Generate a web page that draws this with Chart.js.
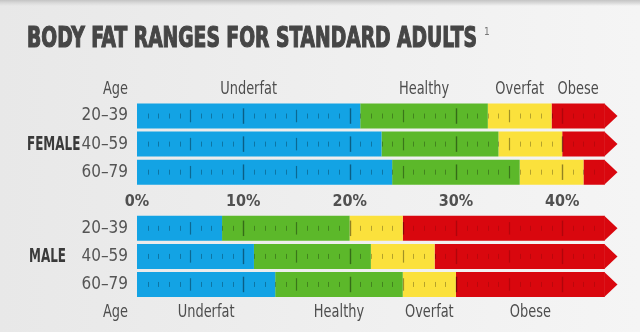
<!DOCTYPE html>
<html>
<head>
<meta charset="utf-8">
<script src="https://cdn.jsdelivr.net/npm/chart.js@4/dist/chart.umd.min.js"></script>
<style>
  html, body { margin: 0; padding: 0; }
  body {
    width: 640px; height: 332px; overflow: hidden;
    background: linear-gradient(to bottom, #c4c4c4 0px, #dadada 3px, rgba(0,0,0,0) 6px),
                linear-gradient(to right, #e8e8e8, #f5f5f5);
  }
  #wrap { position: relative; width: 640px; height: 332px; }
</style>
</head>
<body>
<div id="wrap"><canvas id="myChart" width="640" height="332"></canvas></div>
<script>
const ctx = document.getElementById('myChart');

const FONT = "'Liberation Sans Narrow', 'DejaVu Sans Condensed', 'Roboto', sans-serif";

// data (% body fat, upper bound of each range)
const ageGroups = ['20–39', '40–59', '60–79'];
const zones = ['Underfat', 'Healthy', 'Overfat', 'Obese'];
const femaleUnderfat = [21, 23, 24];
const femaleHealthy = [33, 34, 36];
const femaleOverfat = [39, 40, 42];
const maleUnderfat = [8, 11, 13];
const maleHealthy = [20, 22, 25];
const maleOverfat = [25, 28, 30];
const scaleEnd = 44;      // where the obese bar body ends
const arrowTip = 45.2;    // point of the arrow
const xTicks = [0, 10, 20, 30, 40];

const colors = ['#13a3e4', '#5cb82a', '#fbe13c', '#d9070e'];

// rows: female 3, blank spacer, male 3
const labels = [...ageGroups, '', ...ageGroups];

function rows(lo, hi) {
  const f = ageGroups.map((_, i) => [lo.f(i), hi.f(i)]);
  const m = ageGroups.map((_, i) => [lo.m(i), hi.m(i)]);
  return [...f, null, ...m];
}
const zero = { f: () => 0, m: () => 0 };
const end = { f: () => scaleEnd, m: () => scaleEnd };
const uf = { f: i => femaleUnderfat[i], m: i => maleUnderfat[i] };
const hl = { f: i => femaleHealthy[i], m: i => maleHealthy[i] };
const ov = { f: i => femaleOverfat[i], m: i => maleOverfat[i] };

const ranges = [rows(zero, uf), rows(uf, hl), rows(hl, ov), rows(ov, end)];

// condensed look: squeeze text horizontally
function squeezed(c, text, x, y, factor, align) {
  const w = c.measureText(text).width * factor;
  let left = x;
  if (align === 'center') left = x - w / 2;
  if (align === 'right') left = x - w;
  c.save();
  c.textAlign = 'left';
  c.translate(left, y);
  c.scale(factor, 1);
  c.fillText(text, 0, 0);
  c.restore();
}

const background = {
  id: 'background',
  beforeDraw(chart) {
    const c = chart.ctx;
    c.save();
    c.font = `bold 29px ${FONT}`;
    const title = 'BODY FAT RANGES FOR STANDARD ADULTS';
    const w = c.measureText(title).width;
    c.translate(27, 47);
    c.scale(450 / w, 1);
    c.fillStyle = '#464646';
    c.strokeStyle = '#464646';
    c.lineWidth = 1.2;
    c.textBaseline = 'alphabetic';
    c.fillText(title, 0, 0);
    c.strokeText(title, 0, 0);
    c.restore();
    c.save();
    c.font = `10px ${FONT}`;
    c.fillStyle = '#777';
    c.fillText('1', 484, 35);
    c.restore();
  }
};

const marks = {
  id: 'marks',
  afterDatasetsDraw(chart) {
    const c = chart.ctx;
    const xs = chart.scales.x;
    const meta0 = chart.getDatasetMeta(0);
    const red = chart.getDatasetMeta(3);
    c.save();
    // arrow heads on the obese bars
    c.fillStyle = colors[3];
    red.data.forEach((bar, i) => {
      if (ranges[3][i] == null) return;
      const h = bar.height;
      c.beginPath();
      c.moveTo(bar.x - 0.5, bar.y - h / 2);
      c.lineTo(xs.getPixelForValue(arrowTip), bar.y);
      c.lineTo(bar.x - 0.5, bar.y + h / 2);
      c.closePath();
      c.fill();
    });
    // scale marks inside the bars
    meta0.data.forEach((bar, i) => {
      if (ranges[0][i] == null) return;
      const h = bar.height;
      for (let v = 1; v < scaleEnd; v++) {
        const px = Math.round(xs.getPixelForValue(v)) + 0.5;
        let len, a, lw;
        if (v % 10 === 0) { len = h * 0.62; a = 0.42; lw = 1.4; }
        else if (v % 5 === 0) { len = h * 0.5; a = 0.36; lw = 1.2; }
        else { len = h * 0.2; a = 0.28; lw = 1; }
        if (v > ranges[3][i][0]) a *= 0.45;
        c.strokeStyle = `rgba(0,0,0,${a})`;
        c.lineWidth = lw;
        c.beginPath();
        c.moveTo(px, bar.y - len / 2);
        c.lineTo(px, bar.y + len / 2);
        c.stroke();
      }
    });
    // zone names above and below, group names
    const ys = chart.scales.y;
    c.font = `18px ${FONT}`;
    c.fillStyle = '#4d4d4d';
    c.textBaseline = 'middle';
    const topY = ys.getPixelForValue(0) - 27;
    const botY = ys.getPixelForValue(6) + 28;
    squeezed(c, 'Age', ys.right - 9, topY, 0.8, 'right');
    squeezed(c, 'Age', ys.right - 9, botY, 0.8, 'right');
    zones.forEach((z, d) => {
      const m = chart.getDatasetMeta(d);
      const bt = m.data[0], bb = m.data[6];
      squeezed(c, z, (bt.x + bt.base) / 2, topY, 0.8, 'center');
      squeezed(c, z, (bb.x + bb.base) / 2, botY, 0.8, 'center');
    });
    c.font = `bold 19px ${FONT}`;
    c.fillStyle = '#3a3a3a';
    squeezed(c, 'FEMALE', 27, ys.getPixelForValue(1) + 1, 0.7, 'left');
    squeezed(c, 'MALE', 29, ys.getPixelForValue(5) + 1, 0.7, 'left');
    c.restore();
  }
};

new Chart(ctx, {
  type: 'bar',
  data: {
    labels: labels,
    datasets: zones.map((z, d) => ({
      label: z,
      data: ranges[d],
      backgroundColor: colors[d],
      borderWidth: 0,
      barPercentage: 0.89,
      categoryPercentage: 1
    }))
  },
  options: {
    indexAxis: 'y',
    responsive: false,
    animation: false,
    layout: { padding: { left: 0, right: 14, top: 102, bottom: 33.5 } },
    plugins: { legend: { display: false }, tooltip: { enabled: false } },
    scales: {
      x: {
        min: 0,
        max: 46,
        position: { y: 3 },
        grid: { display: false, drawTicks: false },
        border: { display: false },
        afterBuildTicks(scale) { scale.ticks = xTicks.map(v => ({ value: v })); },
        ticks: {
          padding: -8,
          color: '#505050',
          font: { family: FONT, size: 16, weight: 'bold' },
          callback: v => v + '%'
        }
      },
      y: {
        stacked: true,
        grid: { display: false, drawTicks: false },
        border: { display: false },
        afterFit(scale) { scale.width = 137; },
        ticks: {
          padding: 9,
          color: '#555',
          font: { family: FONT, size: 17 }
        }
      }
    }
  },
  plugins: [background, marks]
});
</script>
</body>
</html>
